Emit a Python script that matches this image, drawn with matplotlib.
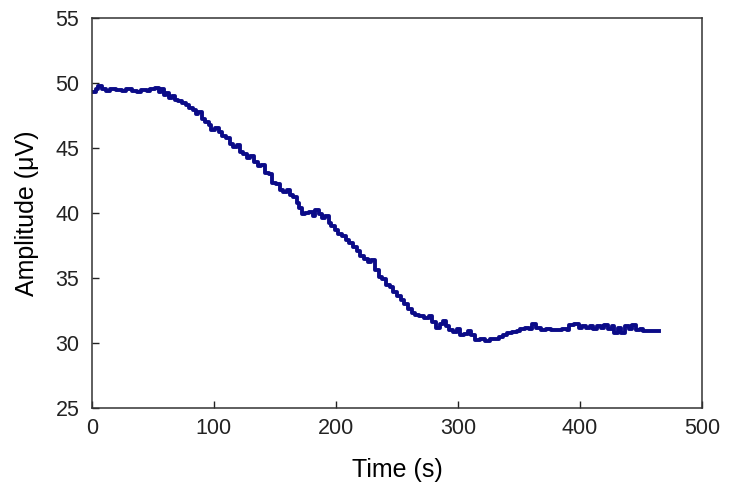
import matplotlib
matplotlib.use("Agg")
import matplotlib.pyplot as plt

# values (time in s, amplitude in uV)
time_s = [0, 3, 5, 8, 12, 15, 20, 25, 28, 33, 37, 40, 45, 48, 52, 55, 57, 59, 61, 63,
          66, 68, 71, 74, 77, 80, 83, 85, 87, 90, 93, 96, 98, 101, 104, 107, 110, 113, 116, 119,
          121, 124, 127, 130, 133, 136, 139, 142, 145, 148, 151, 154, 157, 160, 162, 165, 168, 170, 172, 175,
          178, 181, 183, 186, 189, 191, 194, 196, 199, 202, 205, 208, 211, 214, 217, 220, 223, 226, 229, 232,
          235, 238, 241, 244, 247, 250, 253, 256, 259, 262, 265, 268, 272, 276, 279, 282, 285, 288, 290, 293,
          296, 299, 302, 305, 308, 311, 314, 318, 322, 326, 330, 334, 337, 340, 344, 348, 351, 355, 358, 361,
          364, 368, 372, 376, 380, 385, 389, 391, 395, 399, 402, 405, 408, 411, 414, 417, 420, 423, 426, 428,
          431, 434, 437, 440, 443, 446, 449, 452, 456, 460, 465]
amplitude = [49.3, 49.5, 49.75, 49.5, 49.35, 49.5, 49.45, 49.35, 49.5, 49.4, 49.3, 49.45, 49.35, 49.5, 49.6, 49.3, 49.55, 49.1, 49.2, 48.85,
             49.0, 48.7, 48.6, 48.45, 48.3, 48.05, 47.9, 47.6, 47.8, 47.2, 47.0, 46.8, 46.4, 46.55, 46.2, 45.9, 45.8, 45.3, 45.1, 45.2,
             44.7, 44.5, 44.2, 44.35, 43.9, 43.6, 43.7, 43.1, 43.0, 42.3, 42.2, 41.8, 41.6, 41.8, 41.4, 41.2, 40.8, 40.4, 39.9, 40.0,
             40.1, 39.8, 40.25, 39.9, 39.6, 39.8, 39.2, 39.0, 38.7, 38.4, 38.2, 37.9, 37.7, 37.4, 37.1, 36.7, 36.5, 36.2, 36.4, 35.6,
             35.1, 34.9, 34.5, 34.3, 33.9, 33.6, 33.3, 33.0, 32.6, 32.3, 32.15, 32.1, 31.9, 32.05, 31.6, 31.2, 31.5, 31.7, 31.3, 31.0,
             30.85, 31.05, 30.6, 30.7, 30.9, 30.6, 30.25, 30.3, 30.2, 30.35, 30.3, 30.5, 30.65, 30.8, 30.85, 30.95, 31.1, 31.2, 31.05, 31.45,
             31.15, 31.0, 31.05, 31.0, 31.0, 31.05, 31.0, 31.4, 31.5, 31.2, 31.3, 31.15, 31.35, 31.1, 31.3, 31.2, 31.4, 31.1, 31.3, 30.75,
             31.2, 30.8, 31.3, 31.1, 31.4, 31.0, 31.1, 30.9, 30.95, 30.9, 30.9]

x_ticks = [0, 100, 200, 300, 400, 500]
y_ticks = [25, 30, 35, 40, 45, 50, 55]

plt.rcParams['font.family'] = ['Liberation Sans', 'DejaVu Sans']

fig = plt.figure(figsize=(7.29, 4.96), dpi=100)
ax = fig.add_axes([0.126, 0.177, 0.837, 0.787])

ax.plot(time_s, amplitude, drawstyle='steps-post', color='#0b0b88', linewidth=2.8)

ax.set_xlim(0, 500)
ax.set_ylim(25, 55)
ax.set_xticks(x_ticks)
ax.set_yticks(y_ticks)
ax.tick_params(direction='in', length=5, width=1, labelsize=15.5, colors='#222222')
ax.tick_params(axis='x', pad=7)
ax.tick_params(axis='y', pad=9)
for s in ax.spines.values():
    s.set_color('#333333')
    s.set_linewidth(1.1)

ax.set_xlabel('Time (s)', fontsize=18, labelpad=14)
ax.set_ylabel('Amplitude (μV)', fontsize=18, labelpad=12)

fig.savefig('out.png', dpi=100)
